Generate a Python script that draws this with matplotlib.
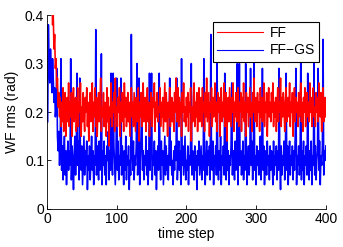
import numpy as np
from matplotlib import pyplot as plt

# WF rms per time step
ff = [
    0.44, 0.52, 0.47, 0.43, 0.49, 0.41, 0.45, 0.38, 0.40, 0.33, 0.36, 0.29, 0.31, 0.25, 0.27, 0.21, 0.24, 0.19, 0.23, 0.17,
    0.22, 0.18, 0.25, 0.16, 0.21, 0.24, 0.15, 0.20, 0.23, 0.18, 0.26, 0.17, 0.22, 0.19, 0.24, 0.15, 0.21, 0.25, 0.18, 0.20,
    0.23, 0.16, 0.19, 0.25, 0.17, 0.22, 0.20, 0.26, 0.15, 0.21, 0.18, 0.24, 0.19, 0.16, 0.23, 0.20, 0.25, 0.17, 0.22, 0.14,
    0.21, 0.24, 0.18, 0.20, 0.26, 0.16, 0.22, 0.19, 0.25, 0.17, 0.23, 0.15, 0.20, 0.24, 0.18, 0.22, 0.27, 0.16, 0.21, 0.19,
    0.24, 0.17, 0.22, 0.20, 0.15, 0.25, 0.18, 0.23, 0.13, 0.21, 0.19, 0.26, 0.17, 0.22, 0.20, 0.24, 0.16, 0.27, 0.19, 0.21,
    0.17, 0.23, 0.20, 0.25, 0.15, 0.22, 0.18, 0.24, 0.21, 0.16, 0.26, 0.19, 0.23, 0.17, 0.21, 0.24, 0.18, 0.22, 0.15, 0.20,
    0.25, 0.19, 0.22, 0.17, 0.24, 0.20, 0.16, 0.23, 0.18, 0.21, 0.25, 0.14, 0.22, 0.19, 0.24, 0.17, 0.21, 0.26, 0.18, 0.20,
    0.23, 0.16, 0.21, 0.25, 0.18, 0.22, 0.15, 0.20, 0.24, 0.19, 0.17, 0.23, 0.21, 0.26, 0.16, 0.22, 0.19, 0.24, 0.18, 0.21,
    0.20, 0.25, 0.17, 0.22, 0.19, 0.23, 0.16, 0.21, 0.26, 0.18, 0.24, 0.20, 0.15, 0.22, 0.19, 0.25, 0.17, 0.21, 0.23, 0.18,
    0.22, 0.16, 0.24, 0.20, 0.27, 0.18, 0.21, 0.25, 0.17, 0.23, 0.19, 0.22, 0.15, 0.24, 0.20, 0.26, 0.18, 0.21, 0.17, 0.23,
    0.19, 0.24, 0.16, 0.22, 0.20, 0.25, 0.14, 0.21, 0.18, 0.23, 0.26, 0.17, 0.22, 0.19, 0.24, 0.16, 0.21, 0.25, 0.18, 0.20,
    0.23, 0.17, 0.25, 0.20, 0.22, 0.16, 0.24, 0.19, 0.27, 0.18, 0.21, 0.24, 0.15, 0.22, 0.20, 0.25, 0.17, 0.23, 0.19, 0.21,
    0.26, 0.18, 0.22, 0.16, 0.24, 0.20, 0.23, 0.15, 0.21, 0.25, 0.18, 0.22, 0.19, 0.26, 0.17, 0.21, 0.24, 0.14, 0.20, 0.23,
    0.18, 0.25, 0.21, 0.17, 0.23, 0.20, 0.26, 0.16, 0.22, 0.19, 0.24, 0.18, 0.21, 0.25, 0.17, 0.22, 0.20, 0.24, 0.16, 0.23,
    0.19, 0.26, 0.18, 0.22, 0.15, 0.24, 0.20, 0.23, 0.17, 0.21, 0.25, 0.19, 0.22, 0.16, 0.24, 0.20, 0.27, 0.18, 0.21, 0.23,
    0.17, 0.24, 0.20, 0.22, 0.16, 0.25, 0.19, 0.23, 0.18, 0.21, 0.26, 0.17, 0.22, 0.20, 0.24, 0.15, 0.21, 0.25, 0.19, 0.22,
    0.18, 0.24, 0.20, 0.26, 0.17, 0.22, 0.19, 0.23, 0.16, 0.21, 0.25, 0.18, 0.22, 0.20, 0.27, 0.17, 0.23, 0.19, 0.24, 0.21,
    0.16, 0.22, 0.25, 0.18, 0.21, 0.23, 0.19, 0.26, 0.17, 0.22, 0.20, 0.24, 0.15, 0.21, 0.25, 0.18, 0.23, 0.20, 0.22, 0.17,
    0.24, 0.19, 0.21, 0.26, 0.18, 0.22, 0.16, 0.23, 0.20, 0.25, 0.17, 0.21, 0.24, 0.19, 0.22, 0.18, 0.26, 0.20, 0.23, 0.17,
    0.22, 0.25, 0.19, 0.21, 0.17, 0.24, 0.20, 0.23, 0.18, 0.26, 0.21, 0.19, 0.24, 0.16, 0.22, 0.25, 0.18, 0.21, 0.23, 0.19,
]

ff_gs = [
    0.18, 0.38, 0.30, 0.26, 0.33, 0.29, 0.24, 0.31, 0.27, 0.22, 0.25, 0.19, 0.21, 0.29, 0.15, 0.12, 0.16, 0.09, 0.14, 0.31,
    0.08, 0.13, 0.06, 0.11, 0.15, 0.07, 0.12, 0.05, 0.10, 0.14, 0.08, 0.12, 0.09, 0.31, 0.06, 0.13, 0.10, 0.04, 0.11, 0.15,
    0.07, 0.12, 0.28, 0.09, 0.14, 0.06, 0.27, 0.11, 0.08, 0.13, 0.05, 0.10, 0.15, 0.07, 0.12, 0.09, 0.14, 0.04, 0.11, 0.08,
    0.13, 0.06, 0.10, 0.15, 0.08, 0.12, 0.05, 0.11, 0.09, 0.37, 0.07, 0.13, 0.10, 0.06, 0.14, 0.08, 0.11, 0.32, 0.05, 0.12,
    0.09, 0.14, 0.07, 0.11, 0.05, 0.13, 0.10, 0.16, 0.06, 0.12, 0.08, 0.28, 0.11, 0.07, 0.28, 0.13, 0.09, 0.05, 0.12, 0.27,
    0.08, 0.14, 0.06, 0.11, 0.09, 0.27, 0.07, 0.13, 0.10, 0.05, 0.12, 0.08, 0.15, 0.06, 0.11, 0.09, 0.13, 0.04, 0.10, 0.07,
    0.36, 0.12, 0.08, 0.14, 0.06, 0.11, 0.09, 0.13, 0.30, 0.07, 0.12, 0.27, 0.05, 0.10, 0.14, 0.24, 0.08, 0.12, 0.06, 0.11,
    0.09, 0.15, 0.07, 0.12, 0.05, 0.10, 0.28, 0.08, 0.13, 0.28, 0.06, 0.11, 0.09, 0.14, 0.07, 0.12, 0.04, 0.10, 0.13, 0.08,
    0.28, 0.11, 0.06, 0.14, 0.09, 0.12, 0.05, 0.10, 0.15, 0.07, 0.13, 0.08, 0.11, 0.06, 0.12, 0.27, 0.09, 0.14, 0.07, 0.10,
    0.05, 0.12, 0.08, 0.13, 0.10, 0.27, 0.06, 0.11, 0.14, 0.08, 0.12, 0.05, 0.31, 0.09, 0.13, 0.07, 0.11, 0.15, 0.06, 0.10,
    0.08, 0.13, 0.05, 0.11, 0.09, 0.14, 0.30, 0.07, 0.12, 0.10, 0.06, 0.13, 0.08, 0.11, 0.04, 0.12, 0.09, 0.14, 0.07, 0.10,
    0.13, 0.06, 0.11, 0.08, 0.31, 0.12, 0.05, 0.10, 0.14, 0.07, 0.12, 0.09, 0.13, 0.06, 0.36, 0.10, 0.08, 0.14, 0.05, 0.11,
    0.09, 0.13, 0.07, 0.30, 0.10, 0.06, 0.12, 0.08, 0.15, 0.05, 0.11, 0.09, 0.13, 0.07, 0.28, 0.10, 0.06, 0.14, 0.08, 0.12,
    0.05, 0.11, 0.09, 0.13, 0.26, 0.07, 0.12, 0.10, 0.06, 0.14, 0.08, 0.11, 0.30, 0.05, 0.13, 0.30, 0.09, 0.12, 0.07, 0.10,
    0.14, 0.06, 0.11, 0.08, 0.30, 0.12, 0.05, 0.10, 0.13, 0.07, 0.11, 0.29, 0.09, 0.14, 0.06, 0.12, 0.30, 0.08, 0.11, 0.05,
    0.13, 0.09, 0.12, 0.07, 0.10, 0.15, 0.06, 0.11, 0.29, 0.08, 0.13, 0.05, 0.10, 0.12, 0.07, 0.14, 0.09, 0.11, 0.06, 0.13,
    0.08, 0.12, 0.10, 0.05, 0.14, 0.07, 0.11, 0.09, 0.13, 0.06, 0.12, 0.08, 0.29, 0.10, 0.04, 0.13, 0.07, 0.11, 0.09, 0.14,
    0.06, 0.12, 0.28, 0.08, 0.13, 0.05, 0.10, 0.14, 0.07, 0.11, 0.09, 0.13, 0.06, 0.12, 0.08, 0.15, 0.29, 0.05, 0.11, 0.09,
    0.13, 0.07, 0.10, 0.31, 0.06, 0.12, 0.08, 0.14, 0.05, 0.11, 0.09, 0.13, 0.07, 0.28, 0.10, 0.06, 0.12, 0.08, 0.14, 0.05,
    0.11, 0.09, 0.30, 0.07, 0.13, 0.06, 0.10, 0.12, 0.29, 0.08, 0.14, 0.05, 0.11, 0.09, 0.13, 0.35, 0.07, 0.12, 0.10, 0.13,
]

steps = np.arange(1, len(ff) + 1)

plt.rcParams['font.family'] = ['Liberation Sans', 'DejaVu Sans']
plt.rcParams['font.size'] = 10

fig = plt.figure(figsize=(3.43, 2.47), dpi=100)
ax = fig.add_axes([0.137, 0.154, 0.813, 0.785])

l_gs, = ax.plot(steps, ff_gs, color='b', linewidth=1.15, zorder=2)
l_ff, = ax.plot(steps, ff, color='r', linewidth=1.15, zorder=3)

ax.set_xlim(0, 400)
ax.set_ylim(0, 0.4)
ax.set_xticks([0, 100, 200, 300, 400])
ax.set_yticks([0, 0.1, 0.2, 0.3, 0.4])
ax.set_yticklabels(['0', '0.1', '0.2', '0.3', '0.4'])
ax.tick_params(direction='in', length=3, width=0.6, pad=2)
for side in ['top', 'right']:
    ax.spines[side].set_visible(False)
for side in ['left', 'bottom']:
    ax.spines[side].set_linewidth(0.6)

ax.set_xlabel('time step', labelpad=1)
ax.set_ylabel('WF rms (rad)', labelpad=4)

leg = ax.legend([l_ff, l_gs], ['FF', 'FF\u2212GS'], loc='upper right',
                bbox_to_anchor=(0.975, 0.965), fancybox=False, framealpha=1,
                edgecolor='black', handlelength=3.3, borderpad=0.3,
                labelspacing=0.25, handletextpad=0.5, borderaxespad=0)
leg.get_frame().set_linewidth(0.8)
for line in leg.get_lines():
    line.set_linewidth(0.8)
leg.set_zorder(5)

plt.savefig('out.png', dpi=100)
